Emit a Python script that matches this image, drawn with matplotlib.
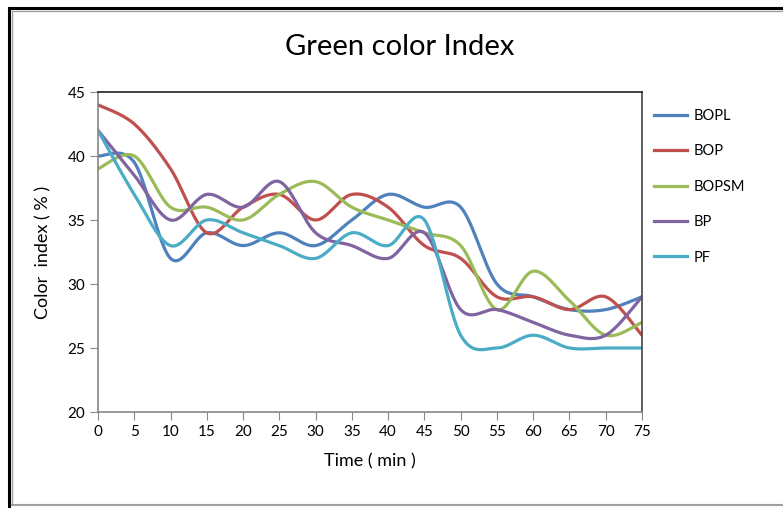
import numpy as np
import matplotlib
matplotlib.use("Agg")
import matplotlib.pyplot as plt
from matplotlib.lines import Line2D

plt.rcParams['font.family'] = ['Lato', 'DejaVu Sans']

time_min = [0, 5, 10, 15, 20, 25, 30, 35, 40, 45, 50, 55, 60, 65, 70, 75]
bopl = [40, 39.5, 32, 34, 33, 34, 33, 35, 37, 36, 36, 30, 29, 28, 28, 29]
bop = [44, 42.5, 39, 34, 36, 37, 35, 37, 36, 33, 32, 29, 29, 28, 29, 26]
bopsm = [39, 40, 36, 36, 35, 37, 38, 36, 35, 34, 33, 28, 31, 28.7, 26, 27]
bp = [42, 38.5, 35, 37, 36, 38, 34, 33, 32, 34, 28, 28, 27, 26, 26, 29]
pf = [42, 37, 33, 35, 34, 33, 32, 34, 33, 35, 26, 25, 26, 25, 25, 25]

series_names = ['BOPL', 'BOP', 'BOPSM', 'BP', 'PF']
series_colors = ['#4F81BD', '#C0504D', '#9BBB59', '#8064A2', '#4BACC6']


def smooth(x, y, n=30):
    # Catmull-Rom style bezier through every point (spreadsheet "smoothed line")
    x = np.asarray(x, float)
    y = np.asarray(y, float)
    p = np.column_stack([x, y])
    pts = []
    for i in range(len(p) - 1):
        p0 = p[i - 1] if i > 0 else p[i]
        p1, p2 = p[i], p[i + 1]
        p3 = p[i + 2] if i + 2 < len(p) else p[i + 1]
        c1 = p1 + (p2 - p0) / 6
        c2 = p2 - (p3 - p1) / 6
        t = np.linspace(0, 1, n)[:, None]
        seg = ((1 - t) ** 3) * p1 + 3 * ((1 - t) ** 2) * t * c1 + 3 * (1 - t) * t ** 2 * c2 + t ** 3 * p2
        pts.append(seg if i == 0 else seg[1:])
    pts = np.vstack(pts)
    return pts[:, 0], pts[:, 1]


fig = plt.figure(figsize=(7.83, 5.08), dpi=100)
W, H = 783, 508
ax = fig.add_axes([98 / W, (H - 412) / H, 544 / W, 320 / H])

handles = []
for vals, name, col in zip([bopl, bop, bopsm, bp, pf], series_names, series_colors):
    sx, sy = smooth(time_min, vals)
    ax.plot(sx, sy, color=col, lw=2.3, solid_capstyle='round')
    handles.append(Line2D([], [], color=col, lw=2.3, label=name))

ax.set_xlim(0, 75)
ax.set_ylim(20, 45)
ax.set_xticks(time_min)
ax.set_yticks(range(20, 46, 5))
ax.tick_params(axis='both', direction='out', length=6, color='#868686',
               labelsize=11, pad=3)
ax.spines['left'].set_color('#868686')
ax.spines['bottom'].set_color('#868686')
ax.spines['top'].set_color('#222222')
ax.spines['right'].set_color('#444444')
for s in ax.spines.values():
    s.set_linewidth(1.2)

ax.set_xlabel('Time ( min )', fontsize=13, labelpad=11)
ax.set_ylabel('Color  index ( % )', fontsize=13, labelpad=12)
fig.text(400 / W, 1 - 47 / H, 'Green color Index', fontsize=21,
         ha='center', va='center')

fig.legend(handles=handles, loc='upper left', bbox_to_anchor=(648 / W, 1 - 103 / H),
           frameon=False, fontsize=10.5, handlelength=2.3, handletextpad=0.4,
           labelspacing=1.47, borderaxespad=0)

# outer frame of the chart area
fig.add_artist(Line2D([9 / W, 9 / W], [0, 1 - 8 / H], color='black', lw=2.2))
fig.add_artist(Line2D([9 / W, 1], [1 - 8 / H, 1 - 8 / H], color='black', lw=2.2))
fig.add_artist(Line2D([12 / W, 12 / W], [3 / H, 1 - 11 / H], color='#a0a0a0', lw=1))
fig.add_artist(Line2D([12 / W, 1], [1 - 11 / H, 1 - 11 / H], color='#a0a0a0', lw=1))
fig.add_artist(Line2D([12 / W, 1], [3 / H, 3 / H], color='#a0a0a0', lw=1.5))

fig.savefig('out.png', dpi=100)
